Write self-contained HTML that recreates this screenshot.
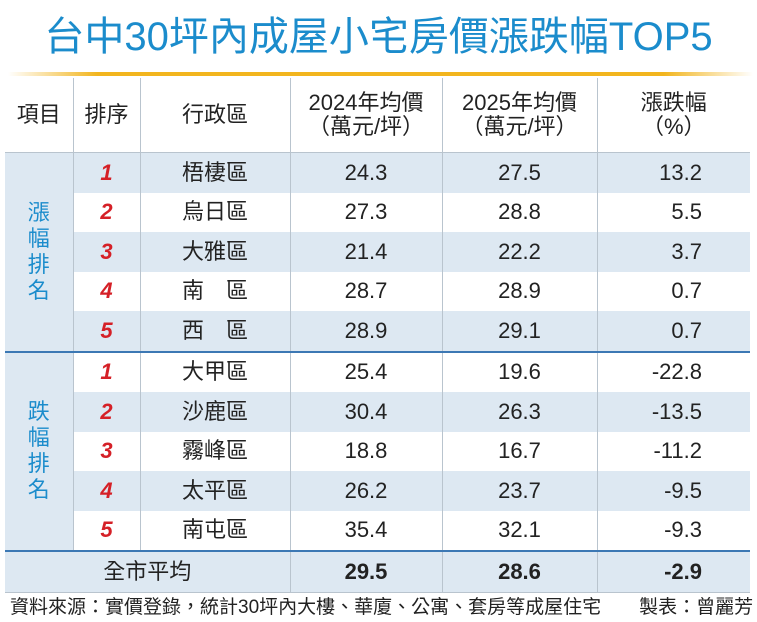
<!DOCTYPE html>
<html><head><meta charset="utf-8"><style>
body{margin:0;width:757px;height:622px;background:#fff;font-family:"Liberation Sans","Noto Sans CJK TC",sans-serif;position:relative;overflow:hidden}
.t{position:absolute;left:0;top:10px;width:757px;text-align:center;font-size:40px;color:#1b8ccc;line-height:54px}
.gold{position:absolute;left:8px;top:72px;width:745px;height:4px;background:linear-gradient(90deg,#fff,#f2b51e 12%,#f2b51e 88%,#fff)}
table{position:absolute;left:5px;top:78px;border-collapse:collapse;font-size:22px;color:#222}
td{text-align:center;padding:0;border-left:1px solid #b9c4ce;border-right:1px solid #b9c4ce;height:39.5px;line-height:24px}
tr.h td{height:74px;background:#fff}
tr.b td{background:#dde8f2}
tr.w td{background:#fff}
td.k{background:#dde8f2!important;color:#1b8ccc;font-size:22px;line-height:26px;border-left:none}
td.r{color:#d52027;font-weight:bold;font-style:italic}
td.num{text-align:right;padding-right:48px}
tr.sep td{border-top:2px solid #3c78b4}
tr.tot td{background:#dde8f2;height:40px;font-weight:bold;border-top:2px solid #3c78b4;border-bottom:1px solid #b9c4ce}
td:last-child{border-right:none}
.f{position:absolute;left:10px;top:592px;font-size:19px;color:#222;white-space:nowrap}
</style></head><body>
<div class="t">台中30坪內成屋小宅房價漲跌幅TOP5</div>
<div class="gold"></div>
<table>
<colgroup><col style="width:68px"><col style="width:67px"><col style="width:150px"><col style="width:152px"><col style="width:155px"><col style="width:153px"></colgroup>
<tr class="h"><td style="border-left:none">項目</td><td>排序</td><td>行政區</td><td>2024年均價<br>（萬元/坪）</td><td>2025年均價<br>（萬元/坪）</td><td>漲跌幅<br>（%）</td></tr>
<tr class="b" style="border-top:1px solid #b9c4ce"><td class="k" rowspan="5">漲<br>幅<br>排<br>名</td><td class="r">1</td><td>梧棲區</td><td>24.3</td><td>27.5</td><td class="num">13.2</td></tr>
<tr class="w"><td class="r">2</td><td>烏日區</td><td>27.3</td><td>28.8</td><td class="num">5.5</td></tr>
<tr class="b"><td class="r">3</td><td>大雅區</td><td>21.4</td><td>22.2</td><td class="num">3.7</td></tr>
<tr class="w"><td class="r">4</td><td>南　區</td><td>28.7</td><td>28.9</td><td class="num">0.7</td></tr>
<tr class="b"><td class="r">5</td><td>西　區</td><td>28.9</td><td>29.1</td><td class="num">0.7</td></tr>
<tr class="w sep"><td class="k" rowspan="5">跌<br>幅<br>排<br>名</td><td class="r">1</td><td>大甲區</td><td>25.4</td><td>19.6</td><td class="num">-22.8</td></tr>
<tr class="b"><td class="r">2</td><td>沙鹿區</td><td>30.4</td><td>26.3</td><td class="num">-13.5</td></tr>
<tr class="w"><td class="r">3</td><td>霧峰區</td><td>18.8</td><td>16.7</td><td class="num">-11.2</td></tr>
<tr class="b"><td class="r">4</td><td>太平區</td><td>26.2</td><td>23.7</td><td class="num">-9.5</td></tr>
<tr class="w"><td class="r">5</td><td>南屯區</td><td>35.4</td><td>32.1</td><td class="num">-9.3</td></tr>
<tr class="tot"><td colspan="3" style="font-weight:normal;border-left:none">全市平均</td><td>29.5</td><td>28.6</td><td class="num">-2.9</td></tr>
</table>
<div class="f">資料來源：實價登錄，統計30坪內大樓、華廈、公寓、套房等成屋住宅　　製表：曾麗芳</div>
</body></html>
